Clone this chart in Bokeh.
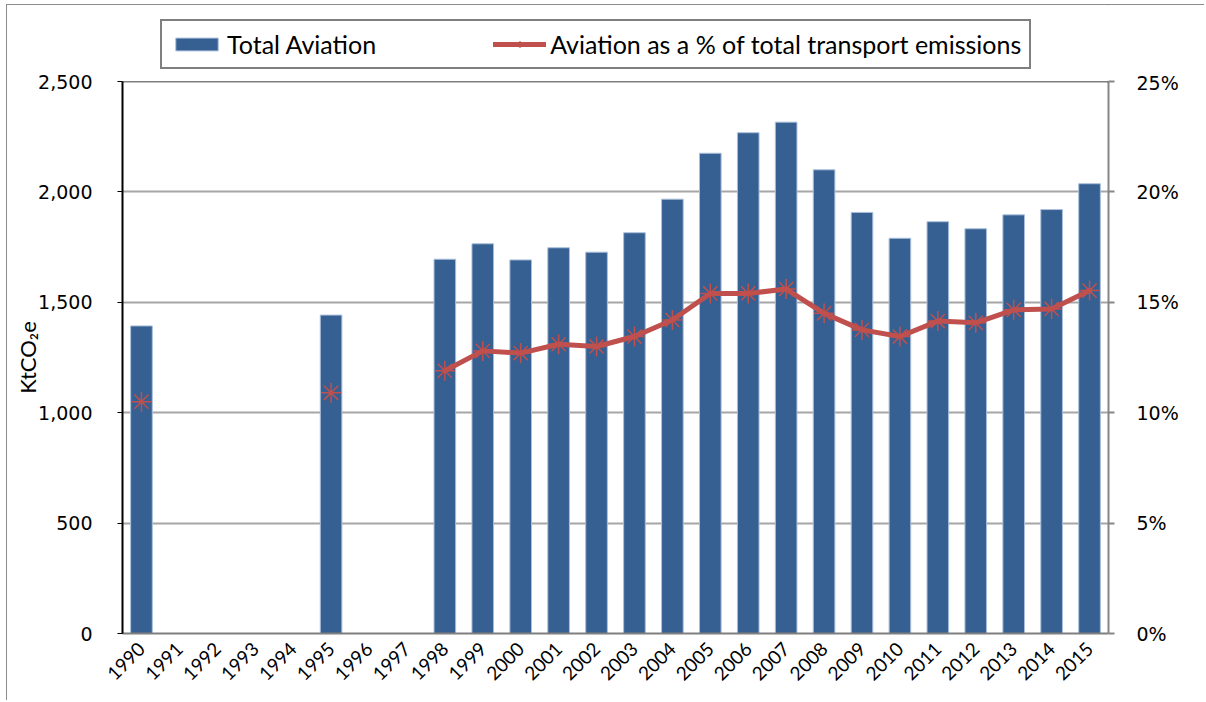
import math
from bokeh.plotting import figure
from bokeh.layouts import column
from bokeh.models import (ColumnDataSource, FactorRange, Range1d, LinearAxis, NumeralTickFormatter,
                          PrintfTickFormatter, Legend, LegendItem, Span, FixedTicker)
from bokeh.embed import file_html
from bokeh.resources import INLINE

# ---- data ----
years = [str(y) for y in range(1990, 2016)]
data_years = ["1990", "1995", "1998", "1999", "2000", "2001", "2002", "2003", "2004", "2005",
              "2006", "2007", "2008", "2009", "2010", "2011", "2012", "2013", "2014", "2015"]
total_aviation_kt = [1393, 1442, 1695, 1765, 1692, 1747, 1727, 1815, 1967, 2175,
                     2268, 2316, 2100, 1907, 1790, 1865, 1833, 1896, 1920, 2037]
aviation_share_pct = [10.5, 10.9, 11.9, 12.8, 12.7, 13.1, 13.0, 13.45, 14.2, 15.4,
                      15.4, 15.6, 14.5, 13.75, 13.45, 14.15, 14.07, 14.66, 14.7, 15.53]
left_ticks = [0, 500, 1000, 1500, 2000, 2500]
right_ticks = [0, 5, 10, 15, 20, 25]
series_names = ["Total Aviation", "Aviation as a % of total transport emissions"]

share_by_year = dict(zip(data_years, aviation_share_pct))
line_y = [share_by_year.get(y, float("nan")) for y in years]

bar_src = ColumnDataSource(dict(x=data_years, top=total_aviation_kt))
line_src = ColumnDataSource(dict(x=years, y=line_y))
pt_src = ColumnDataSource(dict(x=data_years, y=aviation_share_pct))

BAR = "#365F92"
RED = "#C0504D"
bar_style = dict(fill_color=BAR, line_color="#a9bfdb", line_width=1)
line_style = dict(line_color=RED, line_width=5, line_join="round", line_cap="round")
pt_style = dict(marker="asterisk", size=20, line_color=RED, line_width=1.5)

# ---- legend strip (separate figure so it is not clipped) ----
top = figure(width=1197, height=66, x_range=Range1d(0, 1), y_range=Range1d(0, 1),
             output_backend="svg", toolbar_location=None,
             min_border=0, min_border_left=0, min_border_right=0, min_border_top=0, min_border_bottom=0)
top.axis.visible = False
top.grid.visible = False
top.outline_line_color = None
top.background_fill_color = "white"
top.border_fill_color = "white"
# legend-only proxy glyphs, placed outside the visible range
lb = top.vbar(x=[5], top=[5], bottom=[4], width=0.5, **bar_style)
ll = top.line(x=[5, 6], y=[5, 5], **line_style)
lp = top.scatter(x=[5], y=[5], **pt_style)
legend = Legend(items=[LegendItem(label=series_names[0], renderers=[lb]),
                       LegendItem(label=series_names[1], renderers=[ll, lp])],
                orientation="horizontal", location=(38, 2), padding=8, margin=0,
                spacing=117, glyph_width=53, glyph_height=16, label_standoff=4, label_height=28,
                label_text_font="Lato", label_text_font_size="25px", label_text_color="black",
                border_line_color="black", border_line_width=2, background_fill_color="white")
top.add_layout(legend)

# ---- main chart ----
p = figure(x_range=FactorRange(*years), y_range=Range1d(0, 2500),
           width=1197, height=629, output_backend="svg", toolbar_location=None,
           min_border_left=115, min_border_right=96, min_border_top=10, min_border_bottom=67)
p.outline_line_color = None
p.background_fill_color = "white"
p.border_fill_color = "white"

p.extra_y_ranges = {"pct": Range1d(0, 25)}

bars = p.vbar(x="x", top="top", bottom=0, width=0.57, source=bar_src, **bar_style)
line = p.line(x="x", y="y", source=line_src, y_range_name="pct", **line_style)
pts = p.scatter(x="x", y="y", source=pt_src, y_range_name="pct", **pt_style)

# grid
p.xgrid.grid_line_color = None
p.ygrid.ticker = FixedTicker(ticks=left_ticks)
p.ygrid.grid_line_color = "#A6A6A6"
p.ygrid.grid_line_width = 2
p.add_layout(Span(location=2500, dimension="width", line_color="black", line_width=1.5))

# left axis
ya = p.yaxis[0]
ya.ticker = FixedTicker(ticks=left_ticks)
ya.formatter = NumeralTickFormatter(format="0,0")
ya.axis_line_color = "black"
ya.axis_line_width = 2
ya.major_tick_line_color = "black"
ya.major_tick_out = 5
ya.major_tick_in = 0
ya.minor_tick_line_color = None
ya.major_label_text_font = "DejaVu Sans"
ya.major_label_text_font_size = "19px"
ya.major_label_text_color = "black"
ya.major_label_standoff = 25
ya.axis_label = "KtCO\u2082e"
ya.axis_label_text_font = "Lato"
ya.axis_label_text_font_size = "22px"
ya.axis_label_text_font_style = "normal"
ya.axis_label_text_color = "black"
ya.axis_label_standoff = -6

# right axis
ra = LinearAxis(y_range_name="pct", ticker=FixedTicker(ticks=right_ticks),
                formatter=PrintfTickFormatter(format="%d%%"))
ra.axis_line_color = "#868686"
ra.axis_line_width = 2
ra.major_tick_line_color = "#868686"
ra.major_tick_line_width = 2
ra.major_tick_out = 6
ra.major_tick_in = 0
ra.minor_tick_line_color = None
ra.major_label_text_font = "DejaVu Sans"
ra.major_label_text_font_size = "19px"
ra.major_label_text_color = "black"
ra.major_label_standoff = 22
p.add_layout(ra, "right")

# x axis
xa = p.xaxis[0]
xa.axis_line_color = "#7f7f7f"
xa.axis_line_width = 2
xa.major_tick_line_color = None
xa.minor_tick_line_color = None
xa.major_label_orientation = math.pi / 4
xa.major_label_text_font = "Lato"
xa.major_label_text_font_size = "19px"
xa.major_label_text_color = "black"
xa.major_label_standoff = 6

layout = column(top, p, spacing=0,
                styles={"margin-left": "6px", "margin-top": "4px",
                        "border-top": "1px solid #8c8c8c", "border-left": "1px solid #8c8c8c"})

open("out.html", "w").write(file_html(layout, INLINE))
